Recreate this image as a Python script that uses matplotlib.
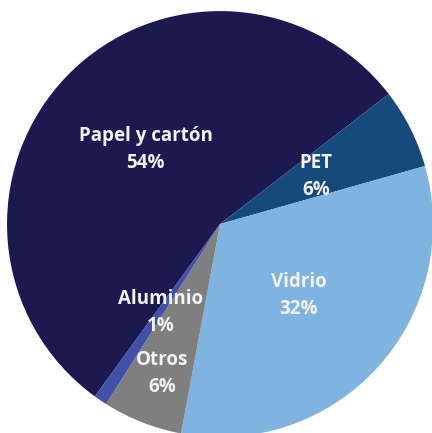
import matplotlib.pyplot as plt

# Composition of recovered packaging waste
labels = ['Papel y cartón', 'PET', 'Vidrio', 'Otros', 'Aluminio']
values = [54, 6, 32, 6, 1]
pct_labels = ['54%', '6%', '32%', '6%', '1%']
colors = ['#1c1850', '#174a7c', '#7fb4e1', '#7f7f7f', '#4050a8']

# where each label block sits (data coords of a unit pie)
label_pos = [(-0.35, 0.35), (0.45, 0.225), (0.37, -0.335), (-0.27, -0.70), (-0.28, -0.415)]

plt.rcParams['font.family'] = ['Open Sans', 'DejaVu Sans']

fig = plt.figure(figsize=(4.32, 4.33), dpi=100)
ax = fig.add_axes([0, 0, 1, 1])

ax.pie(values, colors=colors, startangle=234, counterclock=False,
       radius=1.0, center=(0, 0), wedgeprops=dict(linewidth=0))

for name, pct, (x, y) in zip(labels, pct_labels, label_pos):
    ax.text(x, y, name + '\n' + pct, ha='center', va='center',
            color='#f4f4f4', fontsize=13.5, fontweight='bold', linespacing=1.45)

ax.set_xlim(-1.033, 0.995)
ax.set_ylim(-0.981, 1.052)
ax.set_aspect('auto')
ax.axis('off')

plt.savefig('out.png', dpi=100, facecolor='white')
